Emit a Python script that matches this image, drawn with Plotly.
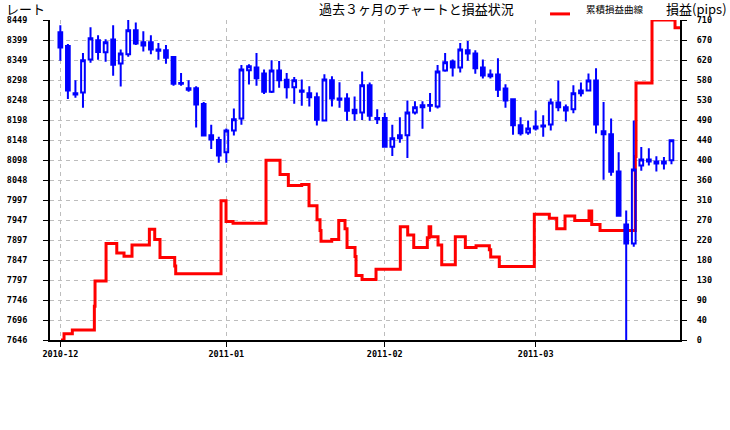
import plotly.graph_objects as go

# daily candles (index 0 = 2010-12-01), price in yen x100
open_ = [8418, 8384, 8265, 8267, 8350, 8398, 8368, 8400, 8340, 8363,
         8423, 8393, 8393, 8375, 8373, 8356, 8289, 8278, 8278, 8238,
         8160, 8148, 8117, 8172, 8202, 8323, 8330, 8315, 8269, 8322,
         8299, 8280, 8272, 8265, 8255, 8197, 8298, 8252, 8252, 8224,
         8217, 8285, 8203, 8203, 8131, 8152, 8160, 8217, 8230, 8234,
         8232, 8322, 8345, 8330, 8373, 8365, 8330, 8308, 8312, 8277,
         8250, 8185, 8167, 8177, 8182, 8187, 8242, 8230, 8225, 8265,
         8272, 8297, 8170, 8162, 8069, 7936, 7888, 8084, 8099, 8094,
         8089, 8097]
high = [8436, 8389, 8298, 8366, 8431, 8411, 8401, 8436, 8375, 8451,
        8443, 8421, 8411, 8391, 8386, 8356, 8316, 8298, 8283, 8243,
        8186, 8156, 8177, 8227, 8336, 8338, 8366, 8325, 8348, 8346,
        8316, 8306, 8300, 8283, 8267, 8313, 8308, 8293, 8265, 8257,
        8320, 8292, 8225, 8216, 8186, 8205, 8247, 8245, 8245, 8266,
        8336, 8366, 8350, 8391, 8396, 8373, 8350, 8325, 8353, 8288,
        8250, 8205, 8197, 8222, 8210, 8252, 8297, 8237, 8285, 8292,
        8315, 8328, 8243, 8202, 8117, 7971, 8197, 8130, 8127, 8107,
        8105, 8150]
low = [8347, 8251, 8254, 8229, 8342, 8349, 8344, 8309, 8282, 8357,
       8386, 8370, 8363, 8349, 8339, 8284, 8284, 8269, 8179, 8159,
       8125, 8091, 8091, 8159, 8186, 8287, 8284, 8263, 8266, 8279,
       8252, 8239, 8234, 8232, 8184, 8197, 8232, 8229, 8196, 8196,
       8198, 8196, 8188, 8131, 8108, 8141, 8103, 8212, 8176, 8219,
       8227, 8319, 8307, 8317, 8347, 8314, 8302, 8302, 8256, 8229,
       8161, 8159, 8161, 8172, 8156, 8172, 8220, 8194, 8215, 8257,
       8272, 8164, 8048, 8058, 7956, 7625, 7880, 8071, 8084, 8069,
       8074, 8087]
close = [8380, 8272, 8262, 8348, 8403, 8369, 8393, 8337, 8365, 8423,
         8390, 8385, 8375, 8372, 8354, 8289, 8291, 8274, 8237, 8159,
         8149, 8109, 8172, 8200, 8325, 8333, 8303, 8269, 8322, 8298,
         8280, 8298, 8269, 8255, 8199, 8300, 8252, 8249, 8221, 8215,
         8285, 8209, 8200, 8131, 8152, 8160, 8217, 8230, 8235, 8236,
         8320, 8343, 8330, 8375, 8365, 8328, 8310, 8312, 8274, 8247,
         8185, 8165, 8177, 8182, 8184, 8242, 8230, 8222, 8265, 8272,
         8297, 8187, 8162, 8068, 7958, 7888, 8074, 8099, 8094, 8089,
         8094, 8147]

# cumulative profit curve (pips), position in candle units
pl_x = [0.09, 0.49, 1.59, 4.51, 4.6, 6.06, 7.48, 8.44, 9.5, 11.8,
        12.51, 13.21, 15.16, 15.29, 21.3, 21.96, 22.89, 27.26, 29.12, 30.22,
        31.99, 32.96, 34.02, 34.42, 34.55, 35.97, 36.9, 37.73, 38.0, 39.06,
        39.19, 39.99, 41.84, 45.06, 46.04, 46.84, 48.64, 48.87, 49.09, 50.06,
        50.55, 52.35, 53.68, 55.1, 56.86, 57.04, 58.18, 62.82, 64.81, 65.79,
        66.89, 68.18, 70.07, 70.43, 71.53, 76.21, 76.3, 78.42, 81.47, 82.13]
pl_pips = [0, 14, 22, 75, 131, 214, 193, 186, 211, 246,
           223, 183, 164, 147, 309, 263, 259, 399, 367, 343,
           345, 298, 267, 243, 219, 223, 265, 247, 205, 185,
           143, 134, 157, 251, 233, 205, 227, 251, 229, 211,
           167, 229, 205, 209, 200, 184, 163, 279, 270, 247,
           275, 265, 286, 256, 243, 407, 570, 710, 693, 693]

month_pos = [0, 22, 43, 63]
month_labels = ['2010-12', '2011-01', '2011-02', '2011-03']

rate_min, rate_max = 7646, 8449
rate_labels = ['7646', '7696', '7746', '7797', '7847', '7897', '7947', '7997', '8048',
               '8098', '8148', '8198', '8248', '8298', '8349', '8399', '8449']
pips_max = 710
pips_labels = ['0', '40', '90', '130', '180', '220', '270', '310', '360',
               '400', '440', '490', '530', '580', '620', '670', '710']

BLUE = '#0000FF'
RED = '#FF0000'
GRID = '#BDBDBD'
JP = 'Noto Sans CJK JP'
tickfont = dict(family='DejaVu Sans Mono', size=8.5, color='black', weight='bold')

n = len(rate_labels) - 1
rate_ticks = [rate_min + (rate_max - rate_min) * k / n for k in range(n + 1)]
pips_ticks = [pips_max * k / n for k in range(n + 1)]

fig = go.Figure()

fig.add_trace(go.Scatter(
    x=pl_x, y=pl_pips, mode='lines', line_shape='hv',
    line=dict(color=RED, width=3), yaxis='y', showlegend=False,
))

fig.add_trace(go.Candlestick(
    x=list(range(len(open_))), open=open_, high=high, low=low, close=close,
    increasing=dict(line=dict(color=BLUE, width=2), fillcolor='rgba(0,0,0,0)'),
    decreasing=dict(line=dict(color=BLUE, width=2), fillcolor=BLUE),
    yaxis='y2', showlegend=False,
))

axis_common = dict(
    ticks='outside', ticklen=5, tickcolor='black', tickwidth=1,
    showline=True, linecolor='black', linewidth=2, zeroline=False,
    tickfont=tickfont, automargin=False,
)

top_y = 1 + 11.5 / 320  # ~8.5px from the top of the page

fig.update_layout(
    width=730, height=430,
    margin=dict(l=50, r=50, t=20, b=90, autoexpand=False),
    paper_bgcolor='white', plot_bgcolor='white',
    boxgap=0.3,
    xaxis=dict(
        range=[-1.37, 82.13], tickmode='array', tickvals=month_pos, ticktext=month_labels,
        showgrid=True, gridcolor=GRID, griddash='4px,4px', gridwidth=1,
        rangeslider=dict(visible=False), **axis_common,
    ),
    yaxis=dict(
        side='right', range=[0, pips_max], tickmode='array',
        tickvals=pips_ticks, ticktext=pips_labels,
        showgrid=True, gridcolor=GRID, griddash='4px,4px', gridwidth=1,
        ticklabelstandoff=8, **axis_common,
    ),
    yaxis2=dict(
        side='left', overlaying='y', range=[rate_min, rate_max], tickmode='array',
        tickvals=rate_ticks, ticktext=rate_labels, showgrid=False,
        ticklabelstandoff=14, **axis_common,
    ),
    shapes=[dict(type='line', xref='paper', yref='paper',
                 x0=0.7937, x1=0.8254, y0=1.019, y1=1.019,
                 line=dict(color=RED, width=3))],
    annotations=[
        dict(text='過去３ヶ月のチャートと損益状況', xref='paper', yref='paper',
             x=0.5825, y=top_y, xanchor='center', yanchor='middle', showarrow=False,
             height=15, valign='middle', borderpad=0,
             font=dict(family=JP, size=13, color='black')),
        dict(text='レート', xref='paper', yref='paper',
             x=-0.0714, y=top_y, xanchor='left', yanchor='middle', showarrow=False,
             height=15, valign='middle', borderpad=0,
             font=dict(family=JP, size=13, color='black')),
        dict(text='損益(pips)', xref='paper', yref='paper',
             x=1.0762, y=top_y, xanchor='right', yanchor='middle', showarrow=False,
             height=15, valign='middle', borderpad=0,
             font=dict(family=JP, size=13, color='black')),
        dict(text='累積損益曲線', xref='paper', yref='paper',
             x=0.849, y=1.034, xanchor='left', yanchor='middle', showarrow=False,
             height=12, valign='middle', borderpad=0,
             font=dict(family=JP, size=9.5, color='black')),
    ],
)

# the page's default body margin would shift the chart by 8px
fig.write_html("out.html", config={'displayModeBar': False},
               post_script="document.body.style.margin='0';")
